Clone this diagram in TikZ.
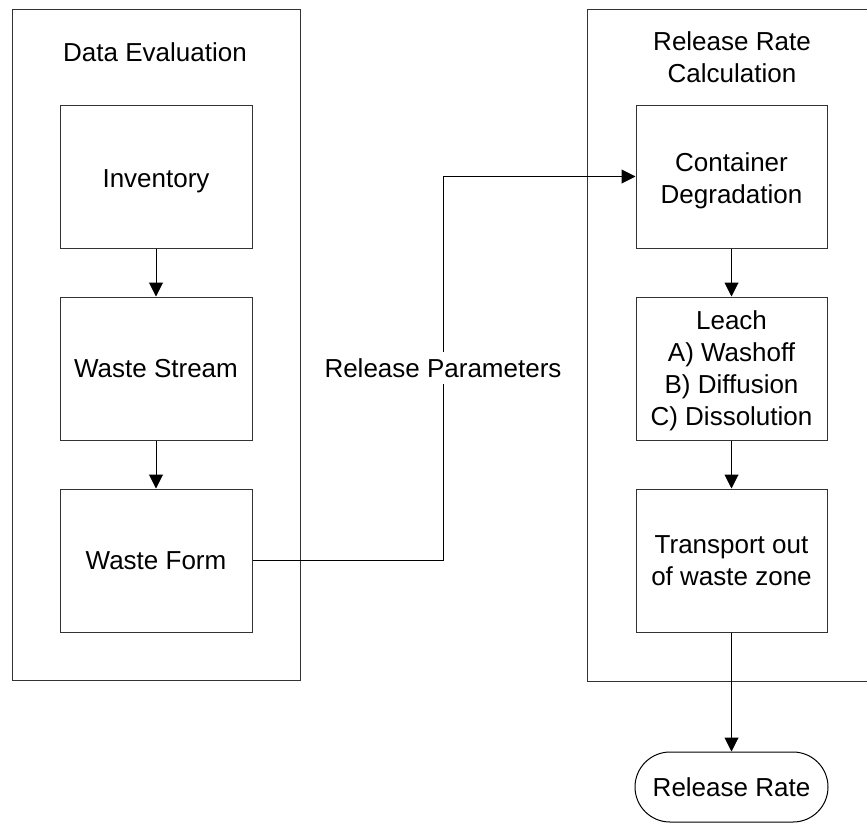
\documentclass[tikz,border=0pt]{standalone}
\usepackage{fontspec}
\setmainfont{Liberation Sans}
\usetikzlibrary{arrows.meta}
\begin{document}
\begin{tikzpicture}[x=1pt,y=-1pt,
  every node/.style={font=\fontsize{26}{32}\selectfont, align=center, inner sep=0pt},
  frame/.style={draw=black!80, line width=1pt, rectangle},
  procbox/.style={draw=black!80, line width=1pt, rectangle, minimum height=143pt},
  arr/.style={draw=black, line width=1pt, -{Triangle[length=14pt,width=14pt]}},
  plain/.style={draw=black, line width=1pt}]
\useasboundingbox (0,0) rectangle (867,822);
% containers
\node[frame, minimum width=288pt, minimum height=671pt] (leftc) at (156,344.5) {};
\node[frame, minimum width=290pt, minimum height=672pt] (rightc) at (732,345) {};
\node (de) at (155,52) {Data Evaluation};
\node (rrc) at (732,57) {Release Rate\\Calculation};
% left boxes
\node[procbox, minimum width=192pt] (inv) at (156,176.5) {};
\node (invt) at (156,181) {Inventory};
\node[procbox, minimum width=192pt] (ws) at (156,368.5) {Waste Stream};
\node[procbox, minimum width=192pt] (wf) at (156,560.5) {Waste Form};
% right boxes
\node[procbox, minimum width=191pt] (cd) at (731.5,176.5) {};
\node (cdt) at (731.5,180.5) {Container\\Degradation};
\node[procbox, minimum width=191pt] (le) at (731.5,368.5) {};
\node (let) at (731.5,371) {Leach\\A) Washoff\\B) Diffusion\\C) Dissolution};
\node[procbox, minimum width=191pt] (tr) at (731.5,560.5) {Transport out\\of waste zone};
\node[draw=black, line width=1pt, rounded corners=35pt, minimum width=193pt, minimum height=70pt] (rr) at (731.5,787) {Release Rate};
% connectors
\draw[arr] (inv) -- (ws);
\draw[arr] (ws) -- (wf);
\draw[arr] (cd) -- (le);
\draw[arr] (le) -- (tr);
\draw[arr] (tr) -- (rr);
\coordinate (mid) at (443,0);
\draw[arr] (wf.east) -- (wf.east -| mid) |- (cd.west);
\node[fill=white, inner xsep=2pt, inner ysep=6pt] (rp) at (443,368) {Release Parameters};
\end{tikzpicture}
\end{document}
